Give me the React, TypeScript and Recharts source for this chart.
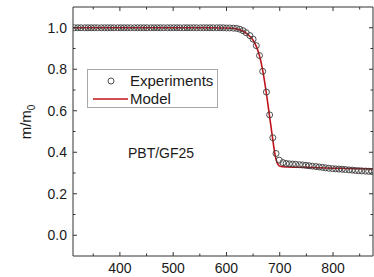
import React from 'react';
import { ComposedChart, Line, Scatter, XAxis, YAxis } from 'recharts';

const expTemp = [
  315, 321, 327, 334, 340, 346, 352, 358, 365, 371, 377, 383, 389, 396, 402, 408, 414, 420, 427, 433,
  439, 445, 451, 458, 464, 470, 476, 482, 489, 495, 501, 507, 513, 520, 526, 532, 538, 544, 551, 557,
  563, 569, 575, 582, 588, 594, 600, 606, 613, 619, 625, 631, 637, 644, 650, 656, 662, 668, 675, 681,
  687, 693, 699, 706, 712, 718, 724, 730, 737, 743, 749, 755, 761, 768, 774, 780, 786, 792, 799, 805,
  811, 817, 823, 830, 836, 842, 848, 854, 861, 867, 873,
];
const expMass = [
  1.0, 1.0, 1.0, 1.0, 1.0, 1.0, 1.0, 1.0, 1.0, 1.0, 1.0, 1.0, 1.0, 1.0, 1.0, 1.0, 1.0, 1.0, 1.0, 1.0,
  1.0, 1.0, 1.0, 1.0, 1.0, 1.0, 1.0, 1.0, 1.0, 1.0, 1.0, 1.0, 1.0, 1.0, 1.0, 1.0, 1.0, 1.0, 1.0, 1.0,
  1.0, 1.0, 1.0, 1.0, 1.0, 1.0, 0.999, 0.999, 0.998, 0.997, 0.993, 0.986, 0.976, 0.962, 0.945, 0.914, 0.866, 0.79, 0.69, 0.58,
  0.47, 0.394, 0.362, 0.35, 0.346, 0.344, 0.343, 0.342, 0.34, 0.339, 0.337, 0.335, 0.333, 0.331, 0.329, 0.327, 0.325, 0.323, 0.321, 0.32,
  0.319, 0.318, 0.317, 0.315, 0.314, 0.312, 0.311, 0.31, 0.309, 0.308, 0.307,
];

const modelTemp = [312, 560, 600, 615, 625, 632, 638, 644, 650, 656, 662, 668, 674, 680, 686, 691, 695, 698, 701, 705, 715, 750, 800, 875];
const modelMass = [1.0, 1.0, 0.999, 0.996, 0.99, 0.982, 0.972, 0.958, 0.94, 0.91, 0.865, 0.795, 0.7, 0.59, 0.478, 0.39, 0.35, 0.337, 0.332, 0.33, 0.329, 0.327, 0.323, 0.32];

const xTicks = [350, 400, 450, 500, 550, 600, 650, 700, 750, 800, 850];
const yTicks = [0, 0.1, 0.2, 0.3, 0.4, 0.5, 0.6, 0.7, 0.8, 0.9, 1.0];
const seriesNames = ['Experiments', 'Model'];
const sampleLabel = 'PBT/GF25';
const yLabelMain = 'm/m';
const yLabelSub = '0';

const expData = expTemp.map((T, i) => ({ T, m: expMass[i] }));
const modelData = modelTemp.map((T, i) => ({ T, m: modelMass[i] }));

const FONT = '"Liberation Sans", Arial, Helvetica, sans-serif';
const AXIS = '#333';
const TEXT = '#1a1a1a';
const RED = '#c0141c';
const MAJOR = 4;
const MINOR = 2.5;

const isMajorY = (v: number) => Math.round(v * 10) % 2 === 0;
const isMajorX = (v: number) => v % 100 === 0;

const LeftTick = (props: any) => {
  const { x, y, payload } = props;
  const v = payload.value as number;
  const major = isMajorY(v);
  return (
    <g>
      <line x1={x} x2={x + (major ? MAJOR : MINOR)} y1={y} y2={y} stroke={AXIS} strokeWidth={1} />
      {major && (
        <text x={x - 6} y={y} dy="0.36em" textAnchor="end" fontSize={14} fontFamily={FONT} fill={TEXT}>
          {v.toFixed(1)}
        </text>
      )}
    </g>
  );
};

const RightTick = (props: any) => {
  const { x, y, payload } = props;
  const major = isMajorY(payload.value);
  return <line x1={x} x2={x - (major ? MAJOR : MINOR)} y1={y} y2={y} stroke={AXIS} strokeWidth={1} />;
};

const BottomTick = (props: any) => {
  const { x, y, payload } = props;
  const v = payload.value as number;
  const major = isMajorX(v);
  return (
    <g>
      <line x1={x} x2={x} y1={y} y2={y - (major ? MAJOR : MINOR)} stroke={AXIS} strokeWidth={1} />
      {major && (
        <text x={x} y={y + 12} dy="0.36em" textAnchor="middle" fontSize={14} fontFamily={FONT} fill={TEXT}>
          {v}
        </text>
      )}
    </g>
  );
};

const TopTick = (props: any) => {
  const { x, y, payload } = props;
  const major = isMajorX(payload.value);
  return <line x1={x} x2={x} y1={y} y2={y + (major ? MAJOR : MINOR)} stroke={AXIS} strokeWidth={1} />;
};

const CircleShape = (props: any) => {
  const { cx, cy } = props;
  if (cx == null || cy == null) return <g />;
  return <circle cx={cx} cy={cy} r={3} fill="none" stroke="#3a3a3a" strokeWidth={0.9} />;
};

const YLabel = () => (
  <text
    transform="translate(31,122) rotate(-90)"
    textAnchor="middle"
    fontSize={15}
    fontFamily={FONT}
    fill={TEXT}
  >
    {yLabelMain}
    <tspan dy={4} fontSize={10}>{yLabelSub}</tspan>
  </text>
);

export default function App() {
  return (
    <div style={{ position: 'absolute', left: 0, top: 0, width: 374, height: 277, background: '#fff' }}>
      <ComposedChart width={374} height={277} margin={{ top: 6, right: 0, bottom: 0, left: 23 }}>
        <XAxis
          xAxisId="b"
          dataKey="T"
          type="number"
          domain={[312, 875]}
          allowDataOverflow
          ticks={xTicks}
          interval={0}
          orientation="bottom"
          height={21}
          tickSize={0}
          tickMargin={0}
          tickLine={false}
          axisLine={{ stroke: AXIS, strokeWidth: 1 }}
          tick={<BottomTick />}
        />
        <XAxis
          xAxisId="t"
          dataKey="T"
          type="number"
          domain={[312, 875]}
          allowDataOverflow
          ticks={xTicks}
          interval={0}
          orientation="top"
          height={1}
          tickSize={0}
          tickMargin={0}
          tickLine={false}
          axisLine={{ stroke: AXIS, strokeWidth: 1 }}
          tick={<TopTick />}
        />
        <YAxis
          yAxisId="l"
          type="number"
          domain={[-0.1, 1.1]}
          allowDataOverflow
          ticks={yTicks}
          interval={0}
          orientation="left"
          width={50}
          tickSize={0}
          tickMargin={0}
          tickLine={false}
          axisLine={{ stroke: AXIS, strokeWidth: 1 }}
          tick={<LeftTick />}
          label={<YLabel />}
        />
        <YAxis
          yAxisId="r"
          type="number"
          domain={[-0.1, 1.1]}
          allowDataOverflow
          ticks={yTicks}
          interval={0}
          orientation="right"
          width={1}
          tickSize={0}
          tickMargin={0}
          tickLine={false}
          axisLine={{ stroke: AXIS, strokeWidth: 1 }}
          tick={<RightTick />}
        />
        <Scatter
          name={seriesNames[0]}
          data={expData}
          dataKey="m"
          xAxisId="b"
          yAxisId="l"
          shape={<CircleShape />}
          isAnimationActive={false}
        />
        <Line
          name={seriesNames[1]}
          data={modelData}
          dataKey="m"
          xAxisId="b"
          yAxisId="l"
          type="monotone"
          stroke={RED}
          strokeWidth={1.6}
          dot={false}
          activeDot={false}
          isAnimationActive={false}
        />
      </ComposedChart>
      <div
        style={{
          position: 'absolute',
          left: 87,
          top: 69,
          width: 129,
          height: 37,
          border: '1px solid #a8a8a8',
          background: '#fff',
          fontFamily: FONT,
          fontSize: 15,
          color: TEXT,
        }}
      >
        <svg width={40} height={37} style={{ position: 'absolute', left: 0, top: 0 }}>
          <circle cx={23} cy={11} r={3} fill="none" stroke="#3a3a3a" strokeWidth={0.9} />
          <line x1={5} x2={40} y1={29} y2={29} stroke={RED} strokeWidth={1.6} />
        </svg>
        <div style={{ position: 'absolute', left: 42, top: 2, lineHeight: '17px' }}>{seriesNames[0]}</div>
        <div style={{ position: 'absolute', left: 42, top: 20, lineHeight: '17px' }}>{seriesNames[1]}</div>
      </div>
      <div
        style={{
          position: 'absolute',
          left: 128,
          top: 145,
          fontFamily: FONT,
          fontSize: 14,
          color: TEXT,
          lineHeight: '16px',
          whiteSpace: 'nowrap',
        }}
      >
        {sampleLabel}
      </div>
    </div>
  );
}
